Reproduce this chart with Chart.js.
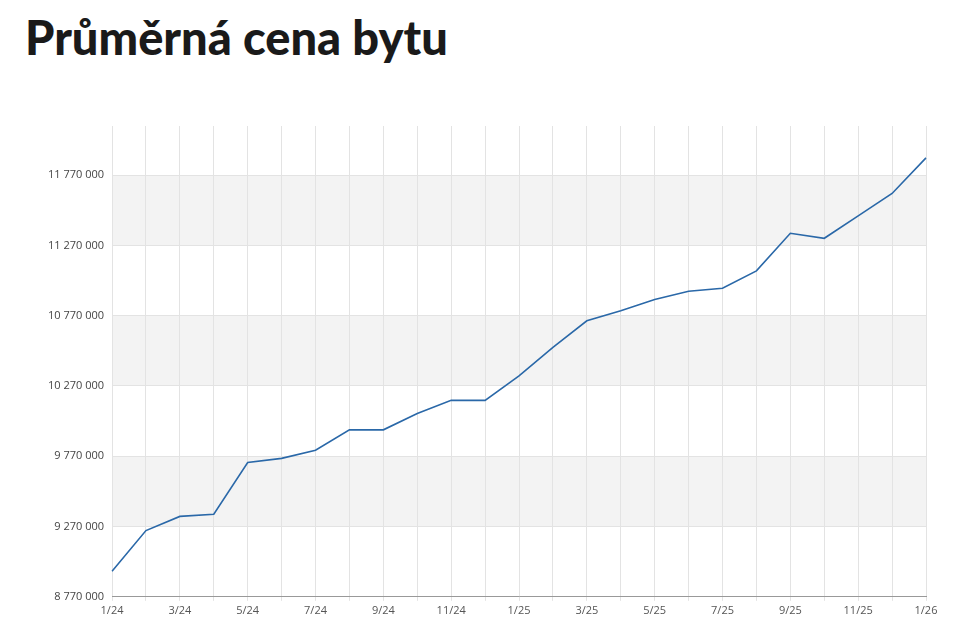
<!DOCTYPE html>
<html>
<head>
  <script src="https://cdn.jsdelivr.net/npm/chart.js@4"></script>
  <style>
    body { margin: 0; background: #fff; font-family: Lato, sans-serif; }
    h1 { margin: 0; position: absolute; left: 25px; top: 9px; font-size: 47px; font-weight: 900; color: #1a1a1a; }
    .wrap { position: absolute; left: 0; top: 110px; width: 950px; height: 510px; }
  </style>
</head>
<body>
  <h1>Průměrná cena bytu</h1>
  <div class="wrap"><canvas id="c"></canvas></div>
  <script>
    const months = ['1/24','2/24','3/24','4/24','5/24','6/24','7/24','8/24','9/24','10/24','11/24','12/24',
      '1/25','2/25','3/25','4/25','5/25','6/25','7/25','8/25','9/25','10/25','11/25','12/25','1/26'];
    const prices = [8951000, 9241000, 9342000, 9357000, 9726000, 9755000, 9813000, 9958000, 9958000,
      10074000, 10168000, 10168000, 10342000, 10545000, 10734000, 10806000, 10886000, 10944000,
      10966000, 11089000, 11357000, 11321000, 11480000, 11640000, 11893000];
    const yTicks = [8770000, 9270000, 9770000, 10270000, 10770000, 11270000, 11770000];

    const fmt = v => String(v).replace(/\B(?=(\d{3})+(?!\d))/g, ' ');

    // grey bands between every other pair of y ticks
    const bands = {
      id: 'bands',
      beforeDraw(chart) {
        const { ctx, chartArea: a, scales: { y } } = chart;
        ctx.save();
        ctx.fillStyle = '#f3f3f3';
        for (let i = 1; i + 1 < yTicks.length; i += 2) {
          const t = y.getPixelForValue(yTicks[i + 1]), b = y.getPixelForValue(yTicks[i]);
          ctx.fillRect(a.left, t, a.right - a.left, b - t);
        }
        ctx.restore();
      }
    };

    new Chart(document.getElementById('c'), {
      type: 'line',
      data: { labels: months, datasets: [{ data: prices, borderColor: '#2a68a8', borderWidth: 1.6, pointRadius: 0, tension: 0 }] },
      options: {
        responsive: true, maintainAspectRatio: false, animation: false,
        layout: { padding: { top: 16, right: 24, left: 40 } },
        plugins: { legend: { display: false }, tooltip: { enabled: false } },
        scales: {
          x: {
            grid: { color: '#e3e3e3', drawTicks: true, tickLength: 4 },
            border: { color: '#999' },
            ticks: { autoSkip: false, maxRotation: 0, color: '#555', font: { family: 'Open Sans', size: 11 },
              callback: (v, i) => i % 2 === 0 ? months[i] : '' }
          },
          y: {
            min: 8770000, max: 12120000,
            afterBuildTicks: s => { s.ticks = yTicks.map(v => ({ value: v })); },
            grid: { color: '#e3e3e3', drawTicks: false },
            border: { display: false },
            ticks: { color: '#444', padding: 8, font: { family: 'Open Sans', size: 11 }, callback: v => fmt(v) }
          }
        }
      },
      plugins: [bands]
    });
  </script>
</body>
</html>
